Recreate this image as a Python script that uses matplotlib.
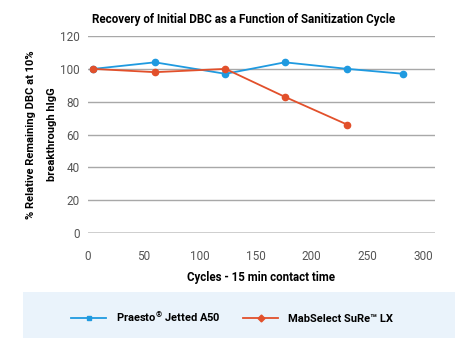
import matplotlib.pyplot as plt
from matplotlib.lines import Line2D
from matplotlib.patches import Rectangle

plt.rcParams["font.family"] = ["Roboto", "DejaVu Sans"]
plt.rcParams["mathtext.fontset"] = "custom"
plt.rcParams["mathtext.rm"] = "Roboto:bold"
plt.rcParams["mathtext.it"] = "Roboto:bold"
plt.rcParams["mathtext.bf"] = "Roboto:bold"

cycles_a50 = [5, 60, 123, 176, 232, 282]
dbc_a50 = [100, 104, 97, 104, 100, 97]
cycles_lx = [5, 60, 123, 176, 232]
dbc_lx = [100, 98, 100, 83, 66]

series_names = ["Praesto$^{\u00ae}$ Jetted A50", "MabSelect SuRe\u2122 LX"]
ylabel_lines = ["% Relative Remaining DBC at 10%", "breakthrough hIgG"]
yticks = [0, 20, 40, 60, 80, 100, 120]
xticks = [0, 50, 100, 150, 200, 250, 300]

BLUE = "#1f9ae0"
RED = "#e2502b"

fig = plt.figure(figsize=(4.67, 3.5), dpi=100)
ax = fig.add_axes([0.188, 0.334, 0.743, 0.563])

ax.plot(cycles_a50, dbc_a50, color=BLUE, lw=1.3, marker="o", ms=4.5, zorder=3)
ax.plot(cycles_lx, dbc_lx, color=RED, lw=1.3, marker="o", ms=4.5, zorder=3)

ax.set_xlim(0, 310)
ax.set_ylim(0, 120)
ax.set_yticks(yticks)
ax.set_xticks(xticks)
ax.grid(axis="y", color="#a8a8a8", lw=1.0)
ax.axhline(0, color="#555555", lw=1.0)
for s in ax.spines.values():
    s.set_visible(False)
ax.tick_params(length=0, labelsize=8.5, labelcolor="#555555")
ax.tick_params(axis="x", pad=12)
ax.tick_params(axis="y", pad=6)

fig.text(0.522, 0.945, "Recovery of Initial DBC as a Function of Sanitization Cycle",
         fontsize=8.4, fontweight="bold", ha="center", va="center")
ax.set_xlabel("Cycles - 15 min contact time", fontsize=8.3, fontweight="bold", labelpad=6)

# two-line y label, drawn as separate texts so the lines sit apart like the original
ax.text(-0.163, 0.5, ylabel_lines[0], transform=ax.transAxes, rotation=90,
        ha="center", va="center", fontsize=8, fontweight="bold")
ax.text(-0.103, 0.5, ylabel_lines[1], transform=ax.transAxes, rotation=90,
        ha="center", va="center", fontsize=8, fontweight="bold")

# legend box
fig.patches.append(Rectangle((0.049, 0.034), 0.925, 0.132, transform=fig.transFigure,
                             facecolor="#eaf3fb", edgecolor="none", zorder=0))
handles = [
    Line2D([], [], color=BLUE, lw=1.3, marker="s", ms=3.5),
    Line2D([], [], color=RED, lw=1.3, marker="D", ms=3.5),
]
fig.legend(handles, series_names, loc="center", bbox_to_anchor=(0.497, 0.095),
           ncol=2, frameon=False, handlelength=3.15, handletextpad=0.9,
           columnspacing=2.0, prop={"size": 8, "weight": "bold"})

fig.savefig("out.png", dpi=100)
